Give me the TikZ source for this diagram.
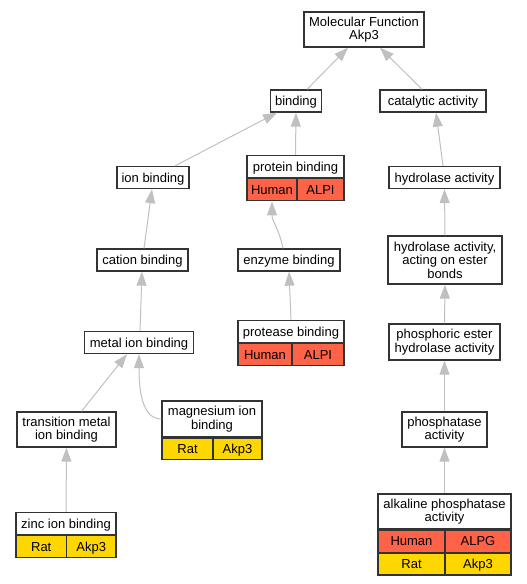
\documentclass[tikz,border=0pt]{standalone}
\usepackage{fontspec}
\setmainfont{Liberation Sans}
\usepackage{xcolor}
\usepackage{tikz}
\usetikzlibrary{arrows.meta, positioning, calc}
\definecolor{edgegray}{HTML}{C0C0C0}
\definecolor{boxline}{HTML}{333333}
\definecolor{humanred}{HTML}{FF6347}
\definecolor{ratgold}{HTML}{FFD700}
\tikzstyle{term} = [rectangle, draw=boxline, line width=1.3pt, fill=white, align=center, inner sep=0pt, minimum height=22pt]
\tikzstyle{oneline} = [text height=11pt, text depth=2pt]
\tikzstyle{human} = [rectangle, draw=boxline, line width=1.3pt, fill=humanred, inner sep=0pt, minimum height=22pt, oneline]
\tikzstyle{rat} = [rectangle, draw=boxline, line width=1.3pt, fill=ratgold, inner sep=0pt, minimum height=21.5pt, oneline]
\tikzstyle{arrow} = [draw=edgegray, line width=1pt, -{Triangle[length=14pt, width=10pt, fill=edgegray]}]

\begin{document}
\begin{tikzpicture}[x=1pt, y=-1pt, font=\fontsize{13}{13.5}\selectfont]
\useasboundingbox (0,0) rectangle (527,584);

% GO terms, top part
\node (mf) [term, minimum width=120pt, minimum height=35pt] at (364,29.5) {Molecular Function\\Akp3};
\node (bind) [term, oneline, minimum width=51pt] at (296,101) {binding};
\node (cat) [term, oneline, minimum width=106pt] at (433,101) {catalytic activity};
\node (ion) [term, oneline, minimum width=72pt] at (153,177.5) {ion binding};
\node (hyd) [term, oneline, minimum width=111pt] at (444.5,177.5) {hydrolase activity};
\node (cation) [term, oneline, minimum width=91pt] at (142.5,260) {cation binding};
\node (enz) [term, oneline, minimum width=102pt] at (289,260) {enzyme binding};
\node (ester) [term, minimum width=114pt, minimum height=48pt] at (445,260) {hydrolase activity,\\acting on ester\\bonds};
\node (metal) [term, oneline, minimum width=109pt] at (139,342.5) {metal ion binding};
\node (phos) [term, minimum width=111pt, minimum height=36pt] at (444.5,342) {phosphoric ester\\hydrolase activity};
\node (trans) [term, minimum width=99pt, minimum height=35pt] at (66.5,429.5) {transition metal\\ion binding};
\node (phosp) [term, minimum width=85pt, minimum height=35pt] at (444.5,429.5) {phosphatase\\activity};

% GO terms with gene tables
\node (pb) [term, oneline, minimum width=97pt] at (295.5,166.5) {protein binding};
\node (pbH) [human, minimum width=50pt, anchor=north west] at (pb.south west) {Human};
\node (pbA) [human, minimum width=47pt, anchor=north east] at (pb.south east) {ALPI};

\node (prot) [term, oneline, minimum width=106pt] at (291,331.5) {protease binding};
\node (protH) [human, minimum width=54pt, anchor=north west] at (prot.south west) {Human};
\node (protA) [human, minimum width=52pt, anchor=north east] at (prot.south east) {ALPI};

\node (mg) [term, minimum width=100pt, minimum height=36pt] at (212,419) {magnesium ion\\binding};
\node (mgR) [rat, minimum width=51pt, anchor=north west] at (mg.south west) {Rat};
\node (mgA) [rat, minimum width=49pt, anchor=north east] at (mg.south east) {Akp3};

\node (zinc) [term, oneline, minimum width=100pt] at (66,523.5) {zinc ion binding};
\node (zincR) [rat, minimum width=50.5pt, anchor=north west] at (zinc.south west) {Rat};
\node (zincA) [rat, minimum width=49.5pt, anchor=north east] at (zinc.south east) {Akp3};

\node (alk) [term, minimum width=133pt, minimum height=35pt] at (444.5,511.5) {alkaline phosphatase\\activity};
\node (alkH) [human, minimum width=67pt, anchor=north west] at (alk.south west) {Human};
\node (alkG) [human, minimum width=66pt, anchor=north east] at (alk.south east) {ALPG};
\node (alkR) [rat, minimum width=67pt, anchor=north west] at (alkH.south west) {Rat};
\node (alkA) [rat, minimum width=66pt, anchor=north east] at (alkG.south east) {Akp3};

% Arrows (child to parent)
\draw [arrow] ([xshift=11pt]bind.north) -- ([xshift=-16pt]mf.south);
\draw [arrow] ([xshift=-11pt]cat.north) -- ([xshift=16pt]mf.south);
\draw [arrow] ([xshift=22pt]ion.north) -- ([xshift=-19pt]bind.south);
\draw [arrow] (pb.north) -- (bind.south);
\draw [arrow] ([xshift=-1.5pt]hyd.north) -- ([xshift=3pt]cat.south);
\draw [arrow] ([xshift=1.5pt]cation.north) -- ([xshift=-1pt]ion.south);
\draw [arrow] ([xshift=-6pt]enz.north) .. controls ([xshift=-10pt, yshift=20pt]enz.north) and ([yshift=-20pt]pbH.south) .. (pbH.south);
\draw [arrow] (ester.north) -- (hyd.south);
\draw [arrow] ([xshift=1pt]metal.north) -- ([xshift=-0.5pt]cation.south);
\draw [arrow] (prot.north) -- (enz.south);
\draw [arrow] (phos.north) -- (ester.south);
\draw [arrow] ([xshift=15pt]trans.north) -- ([xshift=-12pt]metal.south);
\draw [arrow] (mg.west) .. controls ([xshift=-20pt]mg.west) and ([yshift=-34pt]metal.south) .. (metal.south);
\draw [arrow] (phosp.north) -- (phos.south);
\draw [arrow] (zinc.north) -- (trans.south);
\draw [arrow] (alk.north) -- (phosp.south);

\end{tikzpicture}
\end{document}
